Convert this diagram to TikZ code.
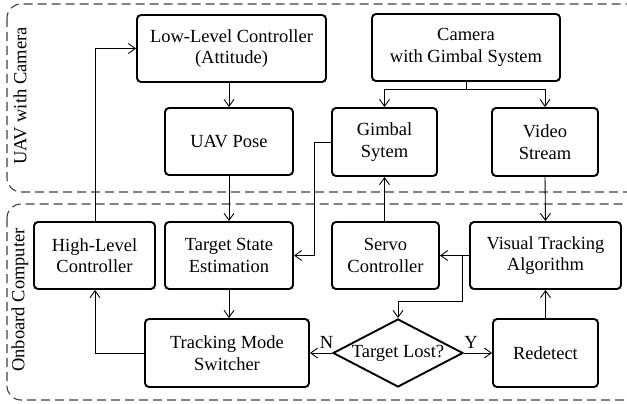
\documentclass[tikz,border=0pt]{standalone}
\usepackage{fontspec}
\setmainfont{Liberation Serif}
\usetikzlibrary{shapes.geometric,arrows.meta}
\begin{document}
\begin{tikzpicture}[x=1pt,y=-1pt,
  font=\fontsize{18.5}{21.5}\selectfont,
  blk/.style={draw,line width=1.9pt,rounded corners=4pt,align=center,inner sep=0pt},
  dec/.style={draw,diamond,line width=1.9pt,aspect=1.9,inner sep=0pt,minimum width=130pt,minimum height=68pt},
  conn/.style={line width=0.9pt},
  arr/.style={conn,-{Straight Barb[length=7pt,width=10pt,line width=0.9pt]}},
  grp/.style={draw=black!75,line width=1.1pt,dash pattern=on 9pt off 5pt,rounded corners=14pt},
  grplbl/.style={rotate=90,anchor=center}]
\useasboundingbox (0,0) rectangle (627,404);
% groups
\draw[grp] (7,4) rectangle (660,192);
\draw[grp] (7,204) rectangle (660,400);
\node[grplbl] (g1) at (20,96) {UAV with Camera};
\node[grplbl] (g2) at (20,300) {Onboard Computer};
% blocks
\node[blk,minimum width=189pt,minimum height=67pt] (llc) at (231.5,48.5) {Low-Level Controller\\(Attitude)};
\node[blk,minimum width=128pt,minimum height=67pt] (pose) at (229,141.5) {UAV Pose};
\node[blk,minimum width=188pt,minimum height=67pt] (cam) at (466,47.5) {Camera\\with Gimbal System};
\node[blk,minimum width=105pt,minimum height=68pt] (gim) at (384.5,142) {Gimbal\\Sytem};
\node[blk,minimum width=106pt,minimum height=68pt] (vid) at (545,142) {Video\\Stream};
\node[blk,minimum width=121pt,minimum height=67pt] (hlc) at (94.5,255.5) {High-Level\\Controller};
\node[blk,minimum width=128pt,minimum height=67pt] (tse) at (229,255.5) {Target State\\Estimation};
\node[blk,minimum width=107pt,minimum height=67pt] (servo) at (385.5,255.5) {Servo\\Controller};
\node[blk,minimum width=151pt,minimum height=67pt] (vta) at (545.5,255.5) {Visual Tracking\\Algorithm};
\node[blk,minimum width=164pt,minimum height=68pt] (tms) at (227,353) {Tracking Mode\\Switcher};
\node[blk,minimum width=105pt,minimum height=68pt] (red) at (545.5,353) {Redetect};
\node[dec] (lost) at (398,353) {Target Lost?};
% helper coordinates
\coordinate (camsplit) at (466,89);
\coordinate (gimcorner) at (314,142);
\coordinate (branch) at (462,255.5);
\coordinate (branchlow) at (462,301);
\coordinate (lostin) at (398,301);
\coordinate (hlcup) at (95,48.5);
\coordinate (tmsleft) at (95,353);
% connectors
\draw[arr] (llc.south -| pose) -- (pose.north);
\draw[conn] (cam.south) -- (camsplit);
\draw[arr] (camsplit) -| (gim.north);
\draw[arr] (camsplit) -| (vid.north);
\draw[arr] (gim.west) -- (gimcorner) |- (tse.east);
\draw[arr] (pose.south) -- (tse.north);
\draw[arr] (vid.south) -- (vta.north);
\draw[arr] (servo.north -| gim) -- (gim.south);
\draw[arr] (vta.west) -- (servo.east);
\draw[arr] (branch) -- (branchlow) -- (lostin) -- (lost.north);
\draw[arr] (lost.west) -- (tms.east) node[pos=0.25,above=1pt] (nl) {N};
\draw[arr] (lost.east) -- (red.west) node[pos=0.25,above=1pt] (yl) {Y};
\draw[arr] (red.north) -- (vta.south);
\draw[arr] (tse.south) -- (tse.south |- tms.north);
\draw[arr] (tms.west) -- (tmsleft) -- (hlc.south -| tmsleft);
\draw[arr] (hlc.north -| hlcup) -- (hlcup) -- (llc.west);
\end{tikzpicture}
\end{document}
